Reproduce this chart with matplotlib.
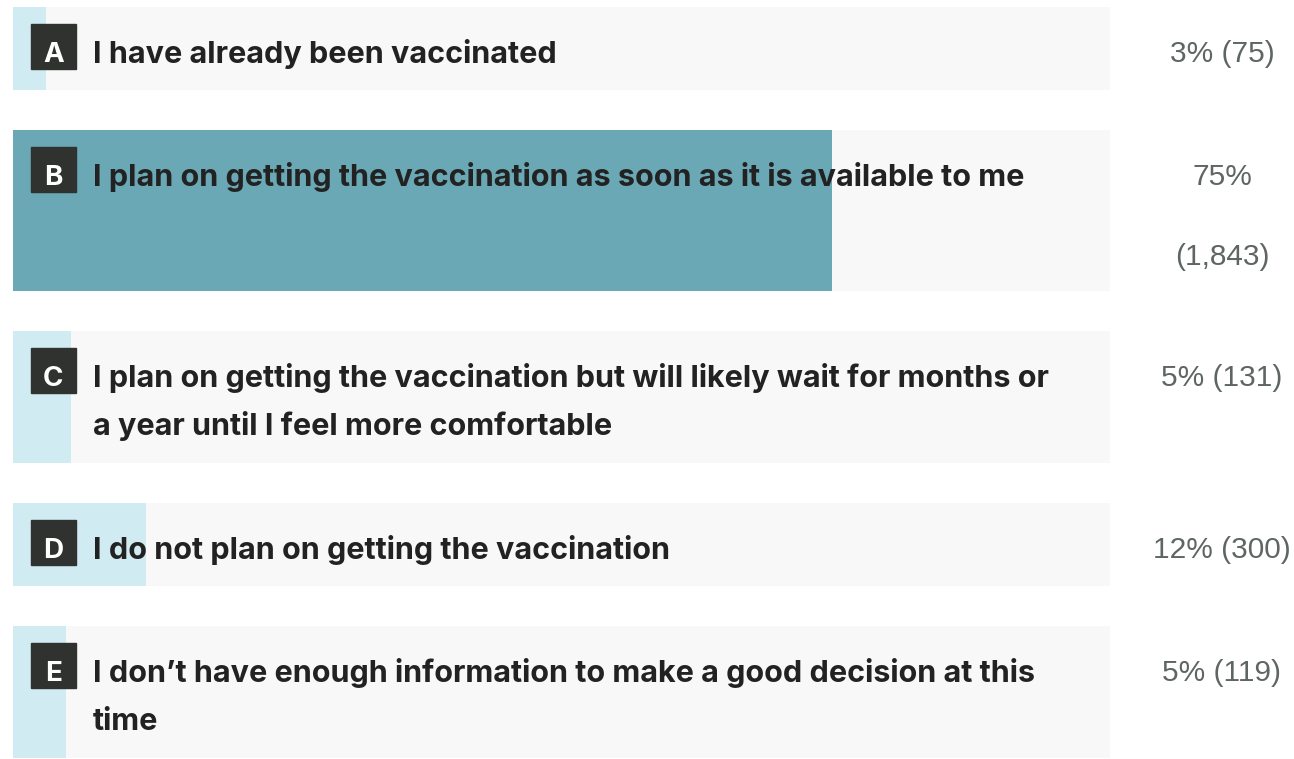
import matplotlib
matplotlib.use("Agg")
import matplotlib.pyplot as plt

letters = ["A", "B", "C", "D", "E"]
answers = [
    "I have already been vaccinated",
    "I plan on getting the vaccination as soon as it is available to me",
    "I plan on getting the vaccination but will likely wait for months or\na year until I feel more comfortable",
    "I do not plan on getting the vaccination",
    "I don\u2019t have enough information to make a good decision at this\ntime",
]
votes = [75, 1843, 131, 300, 119]
value_labels = ["3% (75)", "75%\n(1,843)", "5% (131)", "12% (300)", "5% (119)"]

total = sum(votes)
shares = [v / total for v in votes]

# layout in pixels
W, H = 1294, 759
x0, full_w = 13, 1097
top0, base_h, gap = 7, 83, 40
label_step, value_step = 49, 78
box_x, box_size = 31, 45

fig = plt.figure(figsize=(W / 100, H / 100), dpi=100)
ax = fig.add_axes([0, 0, 1, 1])
ax.set_xlim(0, W)
ax.set_ylim(H, 0)
ax.axis("off")

top = top0
for i in range(len(letters)):
    n_lab = answers[i].count("\n")
    n_val = value_labels[i].count("\n")
    h = base_h + max(n_lab * label_step, n_val * value_step)
    yc = top + h / 2
    ax.barh(yc, full_w, height=h, left=x0, color="#f8f8f8")
    color = "#6aa8b5" if shares[i] == max(shares) else "#d0ebf1"
    ax.barh(yc, shares[i] * full_w, height=h, left=x0, color=color)

    btop = top + 17
    ax.add_patch(plt.Rectangle((box_x, btop), box_size, box_size, color="#2f322f"))
    ax.text(box_x + box_size / 2, btop + 38, letters[i], color="white",
            fontsize=20, fontweight="bold", family="Inter", ha="center", va="baseline")

    for j, line in enumerate(answers[i].split("\n")):
        ax.text(93, btop + 39 + j * 48, line, color="#222222", fontsize=22,
                fontweight="bold", family="Inter", ha="left", va="baseline")
    for j, line in enumerate(value_labels[i].split("\n")):
        ax.text(1222, top + 55 + j * 80, line, color="#5f6661", fontsize=21.5,
                family="Liberation Sans", ha="center", va="baseline")
    top += h + gap

fig.savefig("out.png", dpi=100)
